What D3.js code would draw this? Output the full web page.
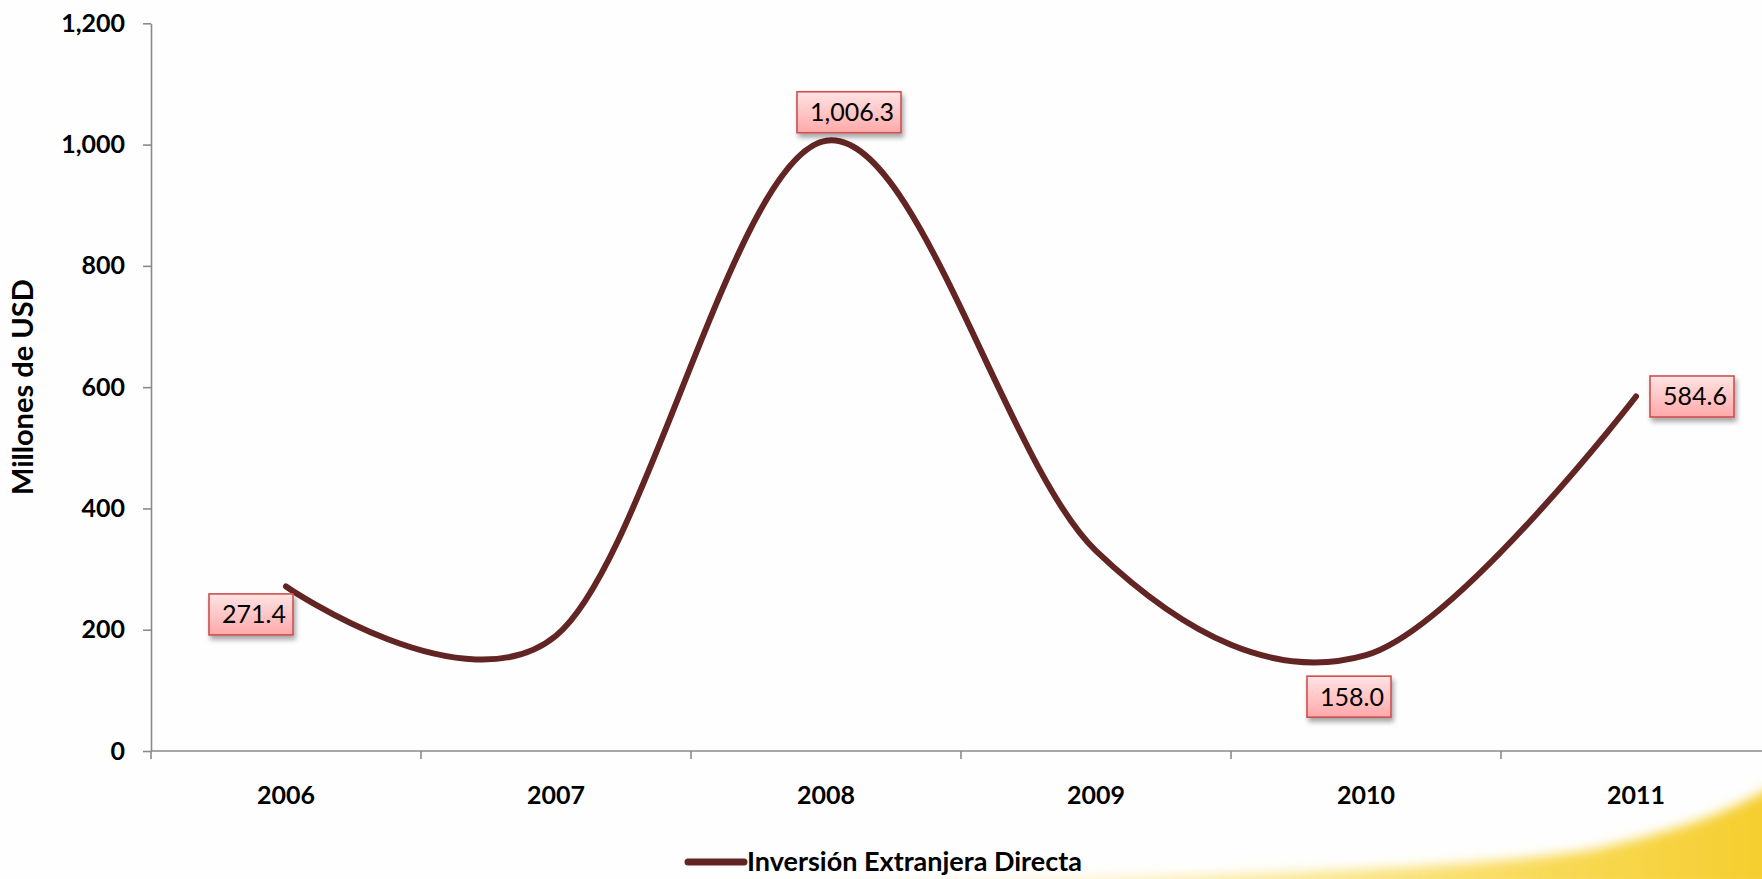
<!DOCTYPE html>
<html>
<head>
<meta charset="utf-8">
<script src="https://cdn.jsdelivr.net/npm/d3@7"></script>
<style>
  html, body { margin: 0; padding: 0; background: #fefefe; }
  svg { display: block; }
  text { font-family: Lato, "Open Sans", sans-serif; }
</style>
</head>
<body>
<svg id="chart" width="1762" height="879"></svg>
<script>
// ---- data ----
const years = ["2006", "2007", "2008", "2009", "2010", "2011"];
const values = [271.4, 190, 1006.3, 330, 158.0, 584.6];
const labelText = ["271.4", null, "1,006.3", null, "158.0", "584.6"];
const yTicks = [0, 200, 400, 600, 800, 1000, 1200];
const seriesName = "Inversión Extranjera Directa";
const yTitle = "Millones de USD";

// ---- layout ----
const W = 1762, H = 879;
const plotLeft = 151, plotTop = 23.3, plotBottom = 751, band = 270;
const labelOffsets = [[-35, 28], null, [23, -28.5], null, [-17, 41.5], [56, 0]];
const boxW = [84, 0, 104, 0, 84, 84];
const boxH = 41;

const svg = d3.select("#chart");
const defs = svg.append("defs");

// background swoosh
const sg = defs.append("linearGradient").attr("id", "swoosh").attr("x1", "0").attr("x2", "1").attr("y1", "0").attr("y2", "0");
sg.append("stop").attr("offset", "0").attr("stop-color", "#fdf3c4").attr("stop-opacity", 0);
sg.append("stop").attr("offset", "0.35").attr("stop-color", "#fbeaa0").attr("stop-opacity", 0.6);
sg.append("stop").attr("offset", "0.8").attr("stop-color", "#f8d84e").attr("stop-opacity", 0.95);
sg.append("stop").attr("offset", "1").attr("stop-color", "#f6cd2c").attr("stop-opacity", 1);
const blur = defs.append("filter").attr("id", "soft").attr("x", "-10%").attr("y", "-50%").attr("width", "120%").attr("height", "200%");
blur.append("feGaussianBlur").attr("stdDeviation", 6);
svg.append("rect").attr("width", W).attr("height", H).attr("fill", "#fefefe");
svg.append("path")
  .attr("d", "M 640,886 C 1100,880 1480,872 1600,848 C 1680,830 1730,812 1775,785 L 1775,890 L 640,890 Z")
  .attr("fill", "url(#swoosh)")
  .attr("filter", "url(#soft)");

// label gradient + shadow
const lg = defs.append("linearGradient").attr("id", "lblGrad").attr("x1", "0").attr("x2", "0").attr("y1", "0").attr("y2", "1");
lg.append("stop").attr("offset", "0").attr("stop-color", "#ffe3e3");
lg.append("stop").attr("offset", "1").attr("stop-color", "#ffa9a9");
const sh = defs.append("filter").attr("id", "shadow").attr("x", "-20%").attr("y", "-20%").attr("width", "150%").attr("height", "160%");
sh.append("feDropShadow").attr("dx", 2).attr("dy", 4).attr("stdDeviation", 2.5).attr("flood-color", "#000").attr("flood-opacity", 0.35);

// scales
const x = d3.scaleBand().domain(years).range([plotLeft, plotLeft + band * years.length]).paddingInner(0).paddingOuter(0);
const y = d3.scaleLinear().domain([0, 1200]).range([plotBottom, plotTop]);
const fmt = d3.format(",");

// y axis
const yAxis = d3.axisLeft(y).tickValues(yTicks).tickFormat(fmt).tickSize(8).tickSizeOuter(0).tickPadding(18);
const gy = svg.append("g").attr("transform", `translate(${plotLeft},0)`).call(yAxis);
gy.select(".domain").attr("stroke", "#8a8a8a").attr("stroke-width", 1.6);
gy.selectAll(".tick line").attr("stroke", "#8a8a8a").attr("stroke-width", 1.6);
gy.selectAll(".tick text").attr("font-size", 25).attr("font-weight", 700).attr("fill", "#000").attr("font-family", "Lato, sans-serif");

// x axis line + boundary ticks
const gx = svg.append("g");
gx.append("line").attr("x1", plotLeft).attr("x2", W).attr("y1", plotBottom).attr("y2", plotBottom)
  .attr("stroke", "#8a8a8a").attr("stroke-width", 1.6);
const bounds = years.map(d => x(d)).concat([x(years[years.length - 1]) + x.bandwidth()]);
gx.selectAll("line.bt").data(bounds).join("line").attr("class", "bt")
  .attr("x1", d => d).attr("x2", d => d).attr("y1", plotBottom).attr("y2", plotBottom + 8)
  .attr("stroke", "#8a8a8a").attr("stroke-width", 1.6);
gx.selectAll("text.yr").data(years).join("text").attr("class", "yr")
  .attr("x", d => x(d) + x.bandwidth() / 2).attr("y", plotBottom + 44).attr("dy", "0.35em")
  .attr("text-anchor", "middle").attr("font-size", 25).attr("font-weight", 700).attr("fill", "#000")
  .text(d => d);

// y title
svg.append("text")
  .attr("transform", `translate(23,${(plotTop + plotBottom) / 2}) rotate(-90)`)
  .attr("text-anchor", "middle").attr("dy", "0.35em")
  .attr("font-size", 29).attr("font-weight", 700).attr("fill", "#000")
  .text(yTitle);

// line
const pts = years.map((d, i) => ({ year: d, v: values[i], lbl: labelText[i], i }));
const line = d3.line().x(d => x(d.year) + x.bandwidth() / 2).y(d => y(d.v)).curve(d3.curveCardinal.tension(0));
svg.append("path").datum(pts).attr("d", line)
  .attr("fill", "none").attr("stroke", "#632523").attr("stroke-width", 6).attr("stroke-linecap", "round");

// labels
const lbls = svg.selectAll("g.lbl").data(pts.filter(d => d.lbl)).join("g").attr("class", "lbl")
  .attr("transform", d => {
    const cx = x(d.year) + x.bandwidth() / 2 + labelOffsets[d.i][0];
    const cy = y(d.v) + labelOffsets[d.i][1];
    return `translate(${cx},${cy})`;
  });
lbls.append("rect")
  .attr("x", d => -boxW[d.i] / 2).attr("y", -boxH / 2).attr("width", d => boxW[d.i]).attr("height", boxH)
  .attr("fill", "url(#lblGrad)").attr("stroke", "#cd5050").attr("stroke-width", 1.6)
  .attr("filter", "url(#shadow)");
lbls.append("text").attr("x", 3).attr("dy", "0.36em").attr("text-anchor", "middle")
  .attr("font-size", 25).attr("fill", "#000").text(d => d.lbl);

// legend
const lgX = 688, lgY = 862;
svg.append("line").attr("x1", lgX).attr("x2", lgX + 56).attr("y1", lgY).attr("y2", lgY)
  .attr("stroke", "#632523").attr("stroke-width", 7).attr("stroke-linecap", "round");
svg.append("text").attr("x", lgX + 59).attr("y", lgY).attr("dy", "0.35em")
  .attr("font-size", 27).attr("font-weight", 700).attr("fill", "#000").text(seriesName);
</script>
</body>
</html>
